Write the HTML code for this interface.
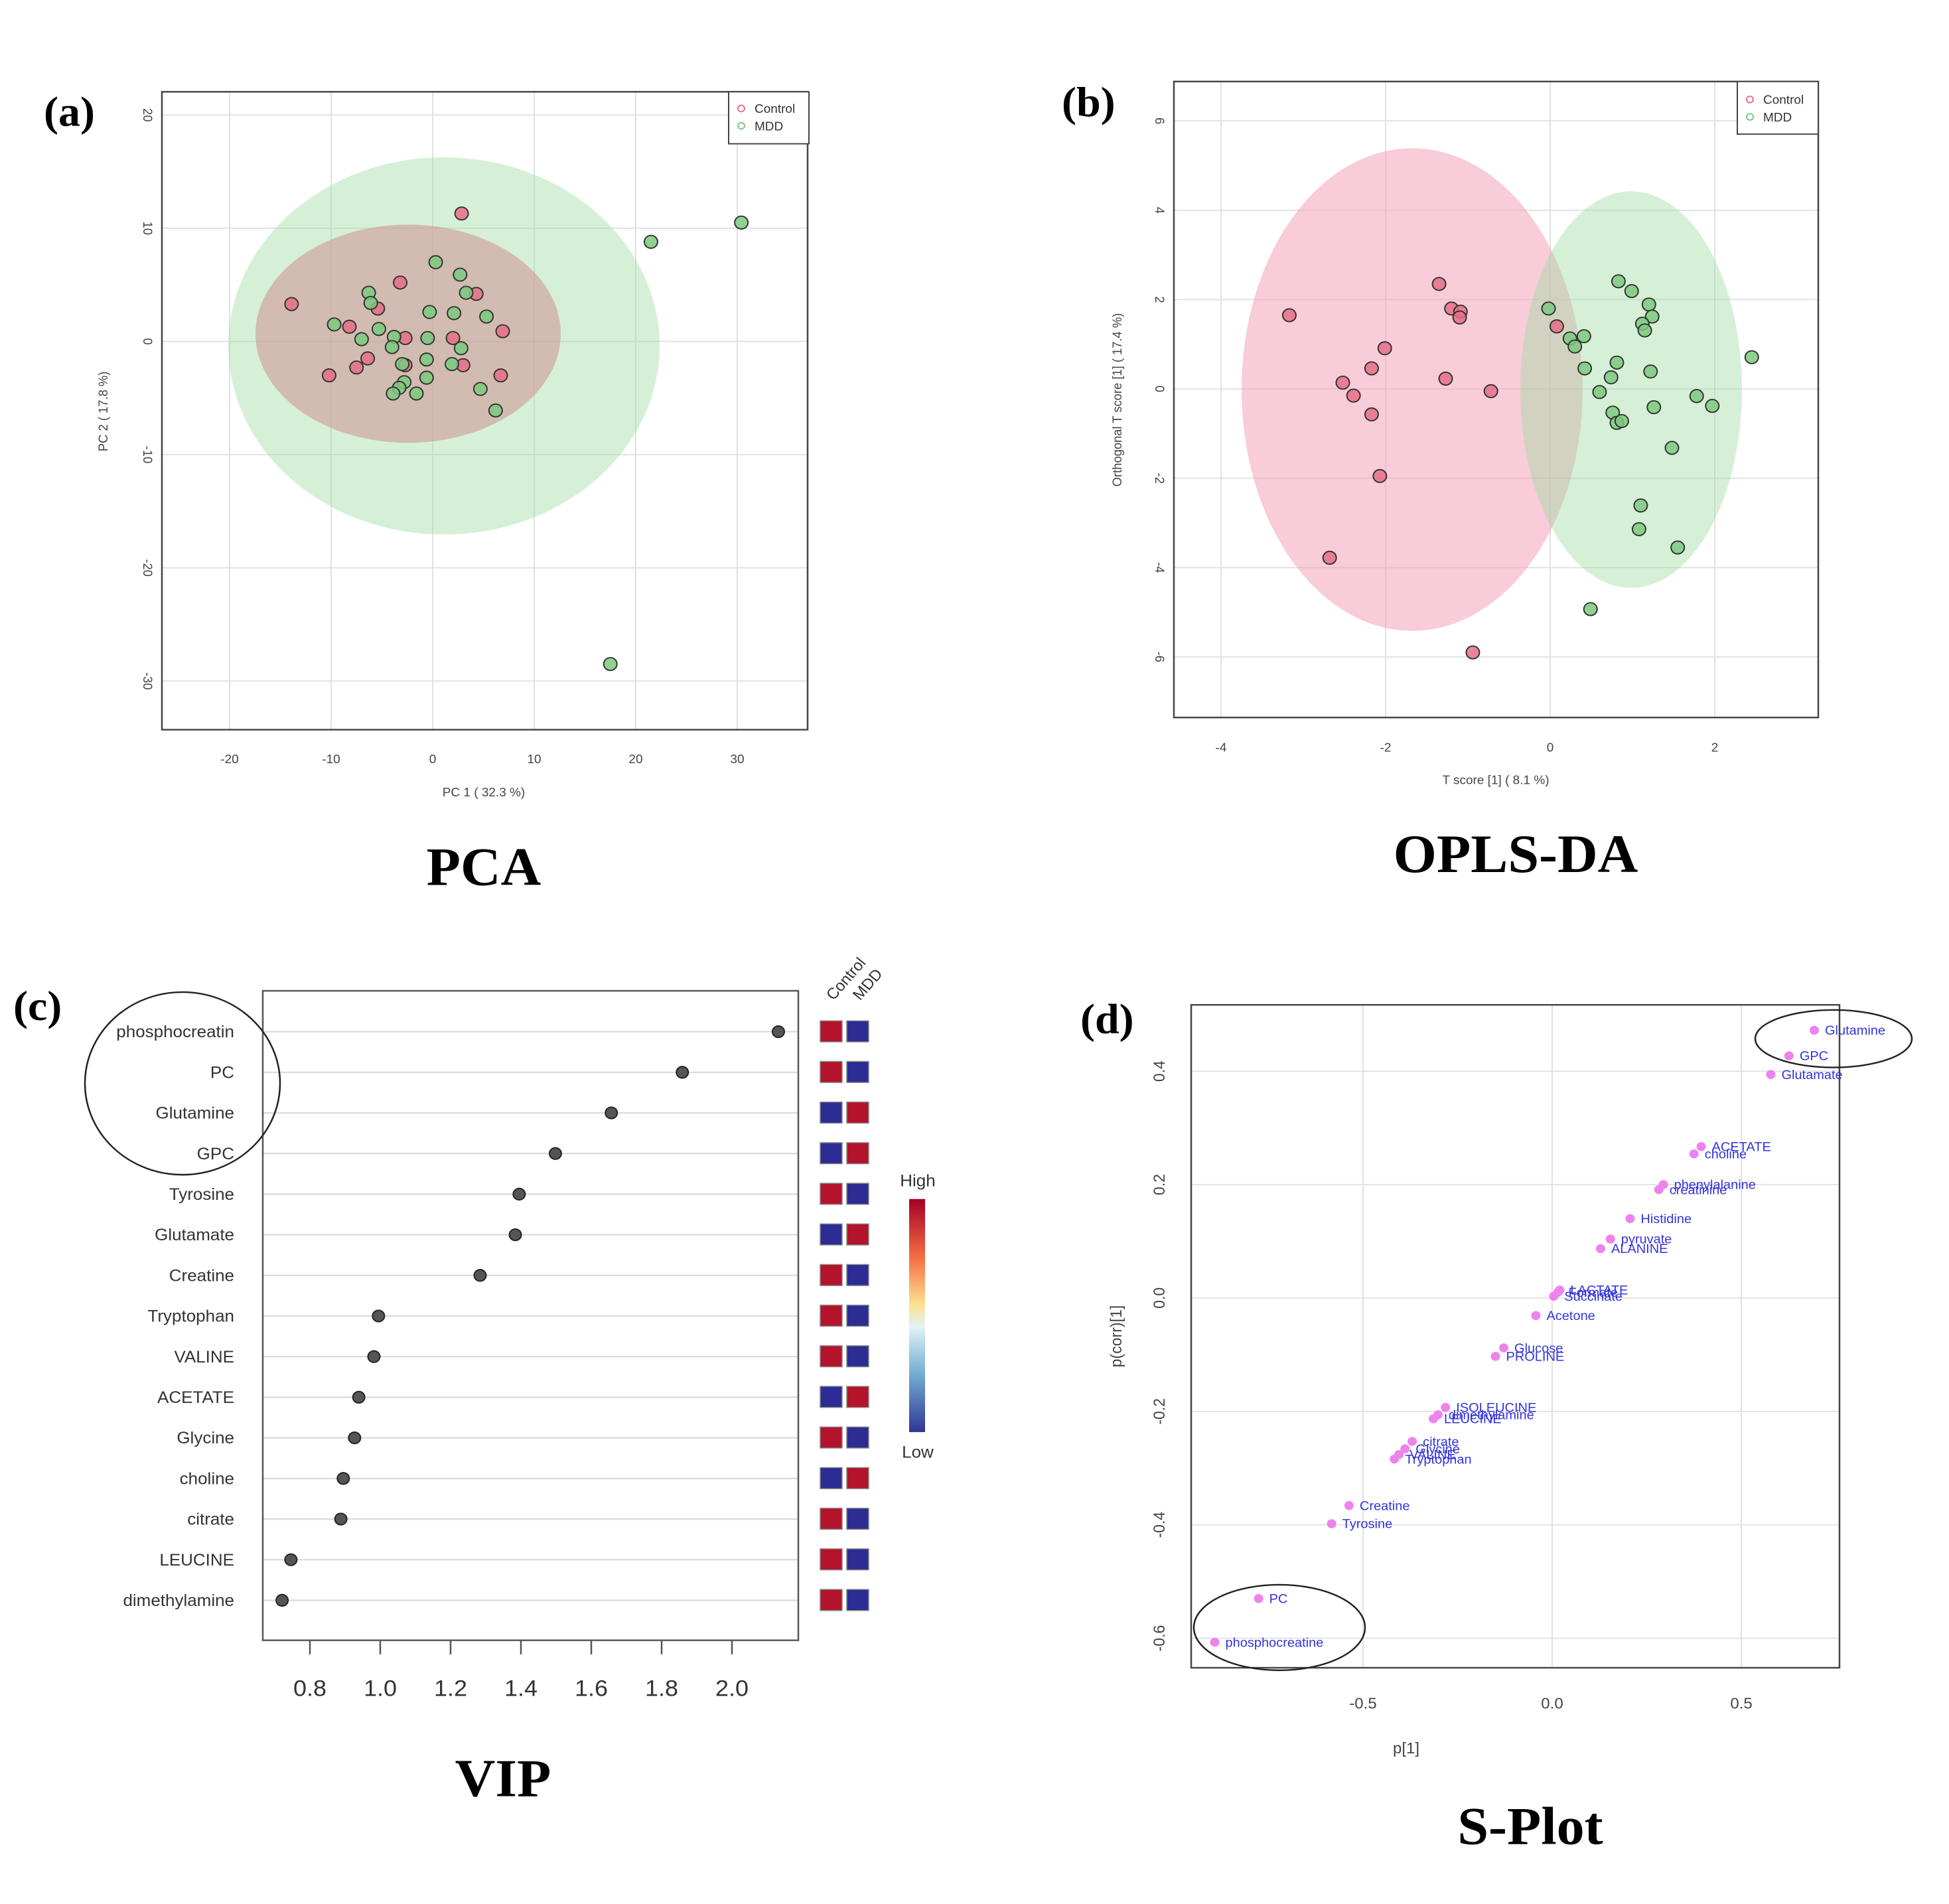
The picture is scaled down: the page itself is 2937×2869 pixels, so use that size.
<!DOCTYPE html>
<html><head><meta charset="utf-8"><style>
html,body{margin:0;padding:0;background:#fff}
svg{display:block}
text{font-family:"Liberation Sans",sans-serif}
.pl{font-family:"Liberation Serif",serif;font-weight:bold}
</style></head><body>
<svg id="fig" width="2937" height="2869" viewBox="0 0 2937 2869" xmlns="http://www.w3.org/2000/svg">
<g id="topRow" transform="translate(0 1) scale(1 0.967)"></g>
<g id="botRow" transform="translate(0 55.3) scale(1 0.9623)"></g>
</svg>
<script>
// ---- PCA data ----
const pcaCtrlX=[2.85,-3.2,-13.9,-8.2,-5.4,4.3,6.9,2.0,-2.7,-6.4,-7.5,-10.2,-2.7,3.0,6.7];
const pcaCtrlY=[11.3,5.2,3.3,1.3,2.9,4.2,0.9,0.3,0.3,-1.5,-2.3,-3.0,-2.1,-2.1,-3.0];
const pcaMddX=[0.3,2.7,3.3,-6.3,-6.1,5.3,-0.3,2.1,-9.7,-5.3,-7.0,-3.8,-4.0,-0.5,2.8,-0.6,1.9,-3.0,-0.6,-2.8,-3.3,-3.9,-1.6,4.7,6.2,21.5,30.4,17.5];
const pcaMddY=[7.0,5.9,4.3,4.3,3.4,2.2,2.6,2.5,1.5,1.1,0.2,0.4,-0.5,0.3,-0.6,-1.6,-2.0,-2.0,-3.2,-3.6,-4.1,-4.6,-4.6,-4.2,-6.1,8.8,10.5,-28.5];
const pcaXTicks=[-20,-10,0,10,20,30];
const pcaYTicks=[20,10,0,-10,-20,-30];
// ---- OPLS-DA data ----
const oplsCtrlX=[-3.17,-1.35,-1.2,-1.09,-1.1,-2.01,-2.17,-2.52,-2.39,-2.17,-1.27,-0.72,-2.07,-2.68,-0.94,0.08];
const oplsCtrlY=[1.65,2.35,1.8,1.73,1.6,0.91,0.46,0.14,-0.15,-0.57,0.23,-0.05,-1.95,-3.78,-5.9,1.4];
const oplsMddX=[-0.02,0.24,0.30,0.41,0.42,0.83,0.99,1.2,1.24,1.12,1.15,0.81,0.74,1.22,0.60,0.76,0.81,0.87,1.26,1.78,1.97,2.45,1.48,1.10,1.08,1.55,0.49];
const oplsMddY=[1.8,1.13,0.95,1.18,0.46,2.41,2.19,1.89,1.62,1.46,1.31,0.59,0.26,0.39,-0.07,-0.53,-0.76,-0.72,-0.41,-0.16,-0.38,0.71,-1.32,-2.61,-3.14,-3.55,-4.93];
const oplsXTicks=[-4,-2,0,2];
const oplsYTicks=[6,4,2,0,-2,-4,-6];
// ---- VIP data ----
const vipNames=["phosphocreatin","PC","Glutamine","GPC","Tyrosine","Glutamate","Creatine","Tryptophan","VALINE","ACETATE","Glycine","choline","citrate","LEUCINE","dimethylamine"];
const vipValues=[2.132,1.859,1.657,1.498,1.395,1.384,1.284,0.995,0.982,0.939,0.927,0.895,0.888,0.746,0.721];
const vipControlHigh=[1,1,0,0,1,0,1,1,1,0,1,0,1,1,1];
const vipTicks=[0.8,1.0,1.2,1.4,1.6,1.8,2.0];
// ---- S-plot data ----
const sNames=["Glutamine","GPC","Glutamate","ACETATE","choline","phenylalanine","creatinine","Histidine","pyruvate","ALANINE","LACTATE","Formate","Succinate","Acetone","Glucose","PROLINE","ISOLEUCINE","dimethylamine","LEUCINE","citrate","Glycine","VALINE","Tryptophan","Creatine","Tyrosine","PC","phosphocreatine"];
const sP=[0.693,0.626,0.578,0.394,0.375,0.294,0.282,0.206,0.154,0.128,0.02,0.015,0.004,-0.043,-0.128,-0.15,-0.282,-0.302,-0.314,-0.37,-0.389,-0.405,-0.417,-0.537,-0.583,-0.776,-0.892];
const sCorr=[0.472,0.427,0.394,0.267,0.254,0.2,0.191,0.140,0.104,0.087,0.014,0.01,0.003,-0.031,-0.088,-0.103,-0.193,-0.206,-0.213,-0.253,-0.266,-0.276,-0.284,-0.366,-0.398,-0.53,-0.607];
const sXTicks=[-0.5,0.0,0.5];
const sYTicks=[0.4,0.2,0.0,-0.2,-0.4,-0.6];

const NS="http://www.w3.org/2000/svg";
const svg=document.getElementById('fig');
const topRow=document.getElementById('topRow');
const botRow=document.getElementById('botRow');
function mk(tag,attrs,parent,txt){const e=document.createElementNS(NS,tag);for(const k in attrs)e.setAttribute(k,attrs[k]);if(txt!==undefined)e.textContent=txt;(parent||svg).appendChild(e);return e;}
function grp(name,parent){const g=mk('g',{},parent);return g;}

// ===== PCA =====
(function(){
const g=grp('pca-panel',topRow);
const L=244,T=142,R=1217,B=1136;
const sx=v=>652+v*15.3, sy=v=>531-v*17.64;
pcaXTicks.forEach(t=>{const l=mk('line',{x1:sx(t),x2:sx(t),y1:T,y2:B,stroke:'#e2e2e2','stroke-width':2},g);});
pcaYTicks.forEach(t=>{const l=mk('line',{x1:L,x2:R,y1:sy(t),y2:sy(t),stroke:'#e2e2e2','stroke-width':2},g);});
let e=mk('ellipse',{cx:669,cy:538,rx:325,ry:294,fill:'#9edba0','fill-opacity':0.42},g);
e=mk('ellipse',{cx:615,cy:519,rx:230,ry:170,fill:'#d09090','fill-opacity':0.55},g);
pcaCtrlX.forEach((x,i)=>{const c=mk('circle',{cx:sx(x),cy:sy(pcaCtrlY[i]),r:10,fill:'#e56f88','fill-opacity':0.85,stroke:'#333','stroke-width':2},g);});
pcaMddX.forEach((x,i)=>{const c=mk('circle',{cx:sx(x),cy:sy(pcaMddY[i]),r:10,fill:'#7cc97f','fill-opacity':0.85,stroke:'#333','stroke-width':2},g);});
let b=mk('rect',{x:L,y:T,width:R-L,height:B-T,fill:'none',stroke:'#444','stroke-width':2.5},g);
pcaXTicks.forEach(t=>{const tx=mk('text',{x:sx(t),y:1188,'font-size':19,fill:'#444','text-anchor':'middle'},g,String(t));});
pcaYTicks.forEach(t=>{const tx=mk('text',{x:0,y:0,'font-size':19,fill:'#444','text-anchor':'middle',transform:`translate(216 ${sy(t)}) rotate(90)`},g,String(t));});
let t=mk('text',{x:729,y:1240,'font-size':19,fill:'#444','text-anchor':'middle'},g,'PC 1 ( 32.3 %)');
t=mk('text',{x:0,y:0,'font-size':19,fill:'#444','text-anchor':'middle',transform:'translate(162 640) rotate(-90)'},g,'PC 2 ( 17.8 %)');
const lg=mk('g',{},g);
mk('rect',{x:1098,y:142,width:121,height:81,fill:'#fff',stroke:'#444','stroke-width':2},lg);
mk('circle',{cx:1117,cy:168,r:5,fill:'none',stroke:'#e56f88','stroke-width':2},lg);
mk('text',{x:1137,y:175,'font-size':19,fill:'#333'},lg,'Control');
mk('circle',{cx:1117,cy:195,r:5,fill:'none',stroke:'#7cc97f','stroke-width':2},lg);
mk('text',{x:1137,y:202,'font-size':19,fill:'#333'},lg,'MDD');
t=mk('text',{x:66,y:195,'font-size':66,class:'pl'},g,'(a)');
t=mk('text',{x:729,y:1378,'font-size':84,class:'pl','text-anchor':'middle'},g,'PCA');
})();

// ===== OPLS-DA =====
(function(){
const g=grp('opls-da-panel',topRow);
const L=1769,T=126,R=2740,B=1117;
const sx=v=>2336+v*124, sy=v=>605-v*69.6;
oplsXTicks.forEach(t=>{const l=mk('line',{x1:sx(t),x2:sx(t),y1:T,y2:B,stroke:'#e2e2e2','stroke-width':2},g);});
oplsYTicks.forEach(t=>{const l=mk('line',{x1:L,x2:R,y1:sy(t),y2:sy(t),stroke:'#e2e2e2','stroke-width':2},g);});
let e=mk('ellipse',{cx:2128,cy:606,rx:257,ry:376,fill:'#f3a3b8','fill-opacity':0.55},g);
e=mk('ellipse',{cx:2458,cy:606,rx:167,ry:309,fill:'#9edba0','fill-opacity':0.42},g);
oplsCtrlX.forEach((x,i)=>{const c=mk('circle',{cx:sx(x),cy:sy(oplsCtrlY[i]),r:10,fill:'#e56f88','fill-opacity':0.85,stroke:'#333','stroke-width':2},g);});
oplsMddX.forEach((x,i)=>{const c=mk('circle',{cx:sx(x),cy:sy(oplsMddY[i]),r:10,fill:'#7cc97f','fill-opacity':0.85,stroke:'#333','stroke-width':2},g);});
let b=mk('rect',{x:L,y:T,width:R-L,height:B-T,fill:'none',stroke:'#444','stroke-width':2.5},g);
oplsXTicks.forEach(t=>{const tx=mk('text',{x:sx(t),y:1170,'font-size':19,fill:'#444','text-anchor':'middle'},g,String(t));});
oplsYTicks.forEach(t=>{const tx=mk('text',{x:0,y:0,'font-size':19,fill:'#444','text-anchor':'middle',transform:`translate(1741 ${sy(t)}) rotate(90)`},g,String(t));});
let t=mk('text',{x:2254,y:1221,'font-size':19,fill:'#444','text-anchor':'middle'},g,'T score [1] ( 8.1 %)');
t=mk('text',{x:0,y:0,'font-size':19,fill:'#444','text-anchor':'middle',transform:'translate(1690 622) rotate(-90)'},g,'Orthogonal T score [1] ( 17.4 %)');
const lg=mk('g',{},g);
mk('rect',{x:2618,y:126,width:122,height:82,fill:'#fff',stroke:'#444','stroke-width':2},lg);
mk('circle',{cx:2637,cy:154,r:5,fill:'none',stroke:'#e56f88','stroke-width':2},lg);
mk('text',{x:2657,y:161,'font-size':19,fill:'#333'},lg,'Control');
mk('circle',{cx:2637,cy:181,r:5,fill:'none',stroke:'#7cc97f','stroke-width':2},lg);
mk('text',{x:2657,y:188,'font-size':19,fill:'#333'},lg,'MDD');
t=mk('text',{x:1600,y:180,'font-size':66,class:'pl'},g,'(b)');
t=mk('text',{x:2284,y:1358,'font-size':84,class:'pl','text-anchor':'middle'},g,'OPLS-DA');
})();

// ===== VIP =====
(function(){
const g=grp('vip-panel',botRow);
const L=396,T=1494,R=1203,B=2511;
const sx=v=>467+(v-0.8)*530, ry=i=>1558+i*63.6;
vipNames.forEach((n,i)=>{
 const l=mk('line',{x1:L,x2:R,y1:ry(i),y2:ry(i),stroke:'#dcdcdc','stroke-width':2.5},g);
 const tx=mk('text',{x:353,y:ry(i)+9,'font-size':26,fill:'#333','text-anchor':'end'},g,n);
 const c=mk('circle',{cx:sx(vipValues[i]),cy:ry(i),r:9,fill:'#555',stroke:'#222','stroke-width':2},g);
 const hi=vipControlHigh[i];
 const r1=mk('rect',{x:1236,y:ry(i)-17,width:33,height:33,fill:hi?'#b3132b':'#2c2c94',stroke:'#888','stroke-width':1.5},g);
 const r2=mk('rect',{x:1276,y:ry(i)-17,width:33,height:33,fill:hi?'#2c2c94':'#b3132b',stroke:'#888','stroke-width':1.5},g);
});
let b=mk('rect',{x:L,y:T,width:R-L,height:B-T,fill:'none',stroke:'#555','stroke-width':2.5},g);
vipTicks.forEach(t=>{
 const l=mk('line',{x1:sx(t),x2:sx(t),y1:B,y2:B+22,stroke:'#555','stroke-width':2.5},g);
 const tx=mk('text',{x:sx(t),y:2598,'font-size':36,fill:'#333','text-anchor':'middle'},g,t.toFixed(1));
});
let t=mk('text',{x:0,y:0,'font-size':24,fill:'#333',transform:'translate(1256 1510) rotate(-50)'},g,'Control');
t=mk('text',{x:0,y:0,'font-size':24,fill:'#333',transform:'translate(1296 1510) rotate(-50)'},g,'MDD');
const defs=mk('defs',{},svg);
const lgr=mk('linearGradient',{id:'cb',x1:0,y1:0,x2:0,y2:1},defs);
[['0','#a50026'],['0.25','#f46d43'],['0.45','#fee090'],['0.55','#e0f3f8'],['0.75','#74add1'],['1','#313695']].forEach(s=>mk('stop',{offset:s[0],'stop-color':s[1]},lgr));
let cb=mk('rect',{x:1370,y:1820,width:24,height:365,fill:'url(#cb)'},g);
t=mk('text',{x:1383,y:1800,'font-size':26,fill:'#333','text-anchor':'middle'},g,'High');
t=mk('text',{x:1383,y:2225,'font-size':26,fill:'#333','text-anchor':'middle'},g,'Low');
let e=mk('ellipse',{cx:275,cy:1639,rx:147,ry:143,fill:'none',stroke:'#222','stroke-width':2.5},g);
t=mk('text',{x:20,y:1540,'font-size':66,class:'pl'},g,'(c)');
t=mk('text',{x:758,y:2755,'font-size':84,class:'pl','text-anchor':'middle'},g,'VIP');
})();

// ===== S-plot =====
(function(){
const g=grp('s-plot-panel',botRow);
const L=1795,T=1516,R=2772,B=2554;
const sx=v=>2339+v*570, sy=v=>1975-v*888;
sXTicks.forEach(t=>{const l=mk('line',{x1:sx(t),x2:sx(t),y1:T,y2:B,stroke:'#e2e2e2','stroke-width':2},g);});
sYTicks.forEach(t=>{const l=mk('line',{x1:L,x2:R,y1:sy(t),y2:sy(t),stroke:'#e2e2e2','stroke-width':2},g);});
sNames.forEach((n,i)=>{
 const c=mk('circle',{cx:sx(sP[i]),cy:sy(sCorr[i]),r:7,fill:'#ee82ee'},g);
 const tx=mk('text',{x:sx(sP[i])+16,y:sy(sCorr[i])+7,'font-size':20,fill:'#3333dd'},g,n);
});
let b=mk('rect',{x:L,y:T,width:R-L,height:B-T,fill:'none',stroke:'#444','stroke-width':2.5},g);
sXTicks.forEach(t=>{const tx=mk('text',{x:sx(t),y:2618,'font-size':24,fill:'#444','text-anchor':'middle'},g,t.toFixed(1));});
sYTicks.forEach(t=>{const tx=mk('text',{x:0,y:0,'font-size':24,fill:'#444','text-anchor':'middle',transform:`translate(1755 ${sy(t)}) rotate(-90)`},g,t.toFixed(1));});
let t=mk('text',{x:2119,y:2688,'font-size':24,fill:'#444','text-anchor':'middle'},g,'p[1]');
t=mk('text',{x:0,y:0,'font-size':24,fill:'#444','text-anchor':'middle',transform:'translate(1690 2035) rotate(-90)'},g,'p(corr)[1]');
let e=mk('ellipse',{cx:2763,cy:1569,rx:118,ry:45,fill:'none',stroke:'#222','stroke-width':2.5},g);
e=mk('ellipse',{cx:1928,cy:2491,rx:129,ry:67,fill:'none',stroke:'#222','stroke-width':2.5},g);
t=mk('text',{x:1628,y:1560,'font-size':66,class:'pl'},g,'(d)');
t=mk('text',{x:2306,y:2830,'font-size':84,class:'pl','text-anchor':'middle'},g,'S-Plot');
})();
</script>
</body></html>
